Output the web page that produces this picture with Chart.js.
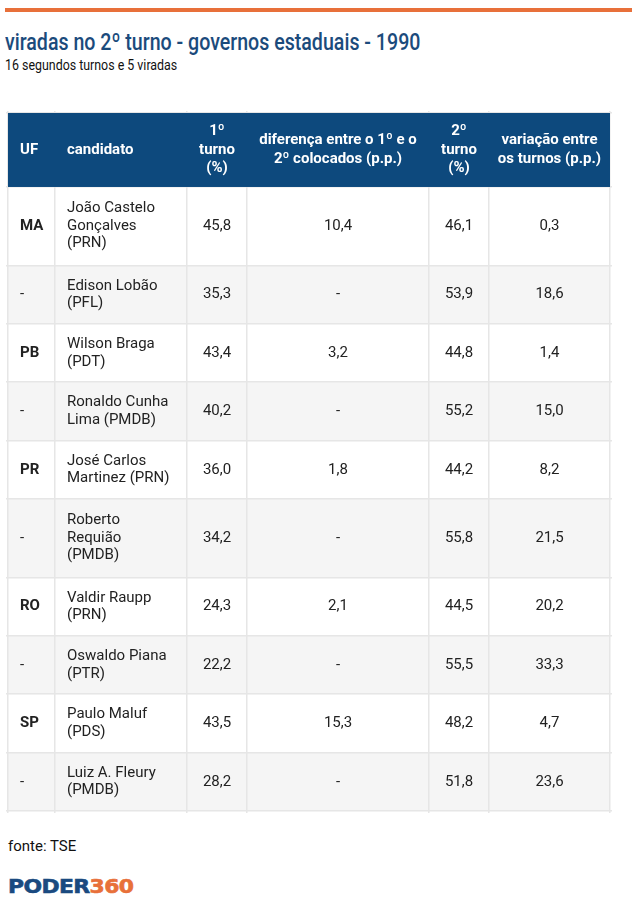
<!DOCTYPE html>
<html>
<head>
<meta charset="utf-8">
<script src="https://cdn.jsdelivr.net/npm/chart.js@4.4.1/dist/chart.umd.min.js"></script>
<style>
body{margin:0;background:#fff;font-family:Roboto,sans-serif;width:638px;height:900px;position:relative;overflow:hidden}
#topbar{position:absolute;left:5px;top:8px;width:627px;height:4px;background:#e8703a}
#title{position:absolute;left:5px;top:30px;font-size:24.5px;line-height:24px;font-weight:500;color:#1b4b7c;white-space:nowrap;transform-origin:0 0;transform:scaleX(.80)}
#subtitle{position:absolute;left:5px;top:57px;font-size:15.5px;line-height:16px;color:#111;white-space:nowrap;transform-origin:0 0;transform:scaleX(.80)}
#wrap{position:absolute;left:6px;top:111px;width:606px;height:702px}
#fonte{position:absolute;left:8px;top:839px;font-size:15px;line-height:15px;color:#111}
#logo{position:absolute;left:8px;top:874px;font-family:"DejaVu Sans",sans-serif;font-weight:900;font-size:19px;line-height:24px;letter-spacing:-0.5px;white-space:nowrap;transform-origin:0 0;transform:scaleX(1.15);-webkit-text-stroke:0.6px}
#logo .a{color:#1a4a80}
#logo .b{color:#e8703a}
</style>
</head>
<body>
<div id="topbar"></div>
<div id="title">viradas no 2º turno - governos estaduais - 1990</div>
<div id="subtitle">16 segundos turnos e 5 viradas</div>
<div id="wrap"><canvas id="tabela" width="606" height="702"></canvas></div>
<div id="fonte">fonte: TSE</div>
<div id="logo"><span class="a">PODER</span><span class="b">360</span></div>
<script>
// dados
const cabecalho = [['UF'], ['candidato'], ['1º', 'turno', '(%)'], ['diferença entre o 1º e o', '2º colocados (p.p.)'], ['2º', 'turno', '(%)'], ['variação entre', 'os turnos (p.p.)']]
const uf = ['MA', '-', 'PB', '-', 'PR', '-', 'RO', '-', 'SP', '-']
const candidatos = [
  'João Castelo\nGonçalves\n(PRN)',
  'Edison Lobão\n(PFL)',
  'Wilson Braga\n(PDT)',
  'Ronaldo Cunha\nLima (PMDB)',
  'José Carlos\nMartinez (PRN)',
  'Roberto\nRequião\n(PMDB)',
  'Valdir Raupp\n(PRN)',
  'Oswaldo Piana\n(PTR)',
  'Paulo Maluf\n(PDS)',
  'Luiz A. Fleury\n(PMDB)'
]
const primeiroTurno = [45.8, 35.3, 43.4, 40.2, 36.0, 34.2, 24.3, 22.2, 43.5, 28.2]
const diferenca = [10.4, null, 3.2, null, 1.8, null, 2.1, null, 15.3, null]
const segundoTurno = [46.1, 53.9, 44.8, 55.2, 44.2, 55.8, 44.5, 55.5, 48.2, 51.8]
const variacao = [0.3, 18.6, 1.4, 15.0, 8.2, 21.5, 20.2, 33.3, 4.7, 23.6]

// layout
const colEdges = [0, 47, 179, 239, 421, 481, 602]
const headerH = 74

const rowEdges = [0, headerH]
candidatos.forEach(c => {
  const lines = c.split('\n').length
  rowEdges.push(rowEdges[rowEdges.length - 1] + 18.2 + 20.1 * lines)
})
const totalH = rowEdges[rowEdges.length - 1]

function fmt(v) {
  if (v === null) return '-'
  return v.toFixed(1).replace('.', ',')
}

function cellText(ctx, lines, x0, x1, y0, y1, align, lh) {
  const cy = (y0 + y1) / 2
  const start = cy - (lines.length - 1) * lh / 2
  ctx.textAlign = align
  ctx.textBaseline = 'middle'
  const tx = align === 'left' ? x0 + 12 : (x0 + x1) / 2
  lines.forEach((l, i) => ctx.fillText(l, tx, start + i * lh))
}

const tabelaPlugin = {
  id: 'tabelaPlugin',
  beforeDraw(chart) {
    const {ctx, scales: {x, y}} = chart
    ctx.save()
    ctx.fillStyle = '#f5f5f5'
    for (let i = 0; i < uf.length; i++) {
      if (i % 2 === 1) {
        const top = y.getPixelForValue(rowEdges[i + 1])
        const bot = y.getPixelForValue(rowEdges[i + 2])
        const l = x.getPixelForValue(colEdges[0])
        const r = x.getPixelForValue(colEdges[colEdges.length - 1])
        ctx.fillRect(l, top, r - l, bot - top)
      }
    }
    ctx.restore()
  },
  afterDatasetsDraw(chart) {
    const {ctx, scales: {x, y}} = chart
    ctx.save()
    const l = x.getPixelForValue(colEdges[0])
    const r = x.getPixelForValue(colEdges[colEdges.length - 1])
    const ht = y.getPixelForValue(0)
    const hb = y.getPixelForValue(headerH)
    ctx.fillStyle = '#0d497d'
    ctx.fillRect(l, ht, r - l, hb - ht)

    ctx.fillStyle = '#ffffff'
    ctx.font = 'bold 15px Roboto'
    cabecalho.forEach((lines, c) => {
      cellText(ctx, lines, x.getPixelForValue(colEdges[c]), x.getPixelForValue(colEdges[c + 1]), ht, hb, c < 2 ? 'left' : 'center', 18.5)
    })

    ctx.fillStyle = '#222222'
    for (let i = 0; i < uf.length; i++) {
      const y0 = y.getPixelForValue(rowEdges[i + 1])
      const y1 = y.getPixelForValue(rowEdges[i + 2])
      const row = [
        [uf[i]],
        candidatos[i].split('\n'),
        [fmt(primeiroTurno[i])],
        [fmt(diferenca[i])],
        [fmt(segundoTurno[i])],
        [fmt(variacao[i])]
      ]
      row.forEach((lines, c) => {
        ctx.font = (c === 0 && uf[i] !== '-') ? 'bold 15px Roboto' : '15px Roboto'
        cellText(ctx, lines, x.getPixelForValue(colEdges[c]), x.getPixelForValue(colEdges[c + 1]), y0, y1, c < 2 ? 'left' : 'center', 17.5)
      })
    }
    ctx.restore()
  }
}

const gridOpts = {drawTicks: false, color: '#e6e6e6', lineWidth: 1.5}

new Chart(document.getElementById('tabela'), {
  type: 'scatter',
  data: {datasets: []},
  options: {
    responsive: false,
    animation: false,
    layout: {padding: 0},
    plugins: {legend: {display: false}, tooltip: {enabled: false}},
    scales: {
      x: {
        type: 'linear', min: -2, max: 604,
        ticks: {display: false}, border: {display: false}, grid: gridOpts,
        afterBuildTicks: axis => { axis.ticks = colEdges.map(v => ({value: v})) }
      },
      y: {
        type: 'linear', reverse: true, min: -2, max: totalH + 2,
        ticks: {display: false}, border: {display: false}, grid: gridOpts,
        afterBuildTicks: axis => { axis.ticks = rowEdges.map(v => ({value: v})) }
      }
    }
  },
  plugins: [tabelaPlugin]
})
</script>
</body>
</html>
